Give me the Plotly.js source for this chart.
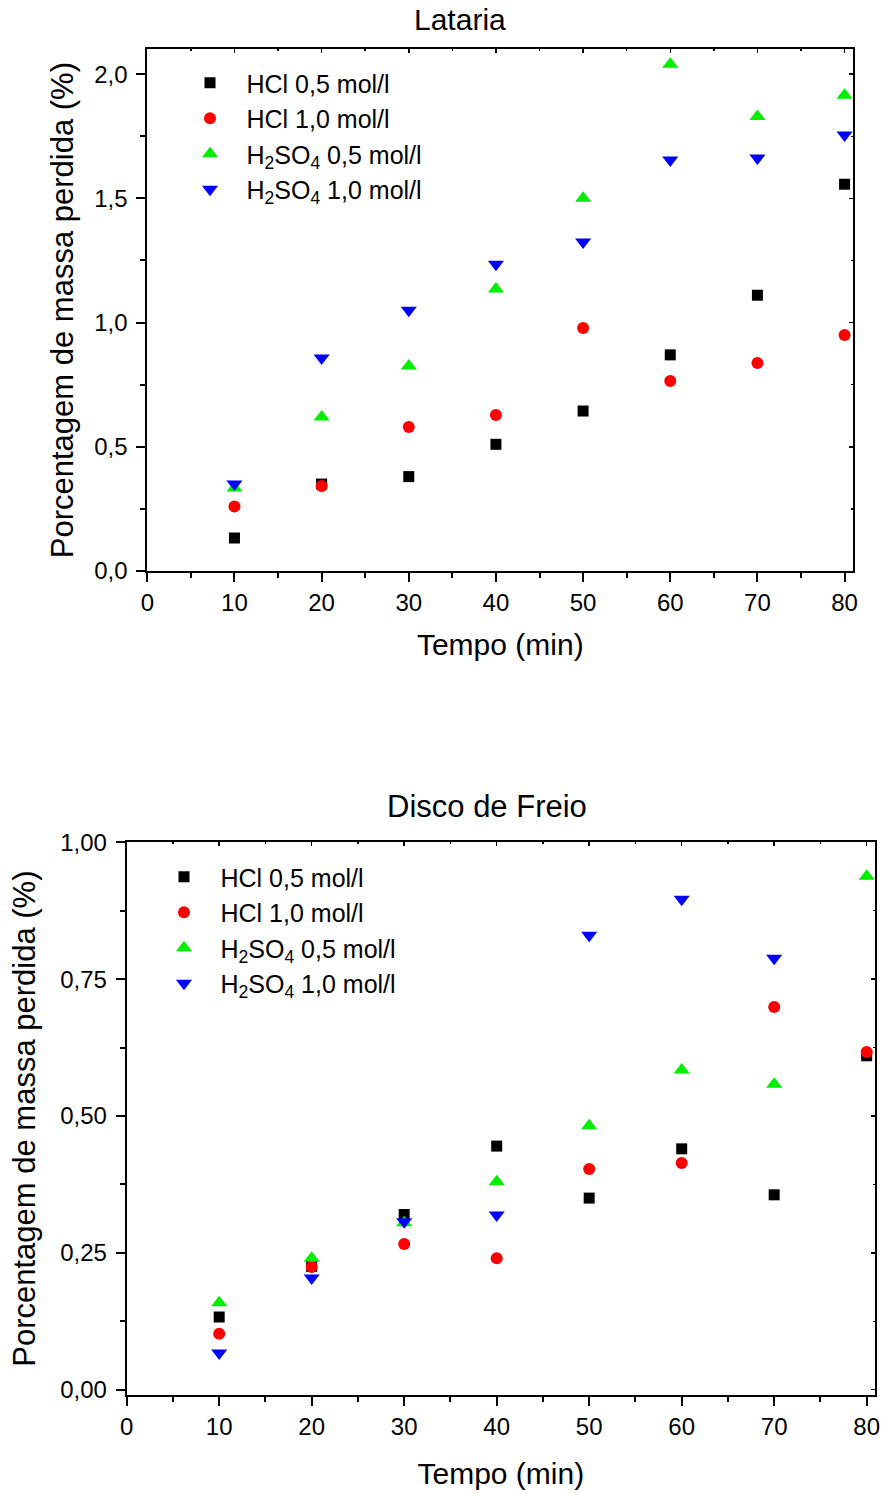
<!DOCTYPE html>
<html>
<head>
<meta charset="utf-8">
<script src="https://cdn.plot.ly/plotly-3.0.1.min.js"></script>
<style>html,body{margin:0;padding:0;background:#fff;}#chart{width:884px;height:1493px;}</style>
</head>
<body>
<div id="chart"></div>
<script>
// Shared
var tempo = [10, 20, 30, 40, 50, 60, 70, 80];
var seriesNames = ["HCl 0,5 mol/l", "HCl 1,0 mol/l", "H<sub>2</sub>SO<sub>4</sub> 0,5 mol/l", "H<sub>2</sub>SO<sub>4</sub> 1,0 mol/l"];

// Lataria
var latHCl05 = [0.133, 0.35, 0.38, 0.51, 0.644, 0.87, 1.11, 1.557];
var latHCl10 = [0.26, 0.342, 0.58, 0.628, 0.978, 0.765, 0.837, 0.95];
var latH2SO405 = [0.334, 0.62, 0.825, 1.135, 1.50, 2.04, 1.83, 1.915];
var latH2SO410 = [0.35, 0.857, 1.05, 1.235, 1.324, 1.654, 1.662, 1.755];

// Disco de Freio
var discoHCl05 = [0.133, 0.225, 0.32, 0.445, 0.35, 0.44, 0.356, 0.61];
var discoHCl10 = [0.102, 0.224, 0.266, 0.24, 0.403, 0.414, 0.699, 0.617];
var discoH2SO405 = [0.159, 0.24, 0.305, 0.38, 0.482, 0.584, 0.558, 0.938];
var discoH2SO410 = [0.067, 0.204, 0.307, 0.319, 0.83, 0.896, 0.788];

var FONT = "Liberation Sans, Arial, sans-serif";
var symbols = ["square", "circle", "triangle-up", "triangle-down"];
var colors = ["#000000", "#ff0000", "#00ee00", "#0000ff"];
var sizes = [11, 12, 14, 14];

function mk(y, i, xa, ya, leg) {
  return {
    x: tempo.slice(0, y.length), y: y, type: "scatter", mode: "markers",
    name: seriesNames[i], xaxis: xa, yaxis: ya, legend: leg,
    marker: {symbol: symbols[i], color: colors[i], size: sizes[i], line: {width: 0}}
  };
}

var data = [
  mk(latHCl05, 0, "x", "y", "legend"),
  mk(latHCl10, 1, "x", "y", "legend"),
  mk(latH2SO405, 2, "x", "y", "legend"),
  mk(latH2SO410, 3, "x", "y", "legend"),
  mk(discoHCl05, 0, "x2", "y2", "legend2"),
  mk(discoHCl10, 1, "x2", "y2", "legend2"),
  mk(discoH2SO405, 2, "x2", "y2", "legend2"),
  mk(discoH2SO410, 3, "x2", "y2", "legend2")
];

function mainAxis(o) {
  var base = {
    showline: true, linecolor: "#000", linewidth: 2, mirror: true,
    ticks: "outside", ticklen: 9, tickwidth: 2, tickcolor: "#000",
    showgrid: false, zeroline: false, fixedrange: true,
    tickfont: {family: FONT, size: 24, color: "#000"},
    ticklabelstandoff: 4
  };
  for (var k in o) base[k] = o[k];
  return base;
}
function mirrorAxis(o) {
  var base = {
    showline: false, ticks: "inside", ticklen: 4, tickwidth: 1.5, tickcolor: "#000",
    showgrid: false, zeroline: false, showticklabels: false, fixedrange: true
  };
  for (var k in o) base[k] = o[k];
  return base;
}

var topX = [147.3/884, 853.3/884], topY = [1-571/1493, 1-49.3/1493];
var botX = [126.7/884, 875/884], botY = [1-1395/1493, 1-842.3/1493];
var minorX = {dtick: 5, ticks: "outside", ticklen: 5, tickwidth: 2, tickcolor: "#000"};

var layout = {
  width: 884, height: 1493,
  margin: {l: 0, r: 0, t: 0, b: 0},
  paper_bgcolor: "#fff", plot_bgcolor: "#fff",
  separators: ",.",
  font: {family: FONT, color: "#000"},
  xaxis: mainAxis({domain: topX, anchor: "y", range: [0, 81], dtick: 10, tick0: 0, ticklabelstandoff: 0,
    minor: minorX,
    title: {text: "Tempo (min)", font: {family: FONT, size: 30}, standoff: 19}}),
  yaxis: mainAxis({domain: topY, anchor: "x", range: [0, 2.1], dtick: 0.5, tick0: 0, tickformat: ".1f",
    minor: {dtick: 0.25, ticks: "outside", ticklen: 5, tickwidth: 2, tickcolor: "#000"},
    title: {text: "Porcentagem de massa perdida (%)", font: {family: FONT, size: 31}, standoff: 11}}),
  xaxis2: mainAxis({domain: botX, anchor: "y2", range: [0, 80.9], dtick: 10, tick0: 0, ticklabelstandoff: 0,
    minor: minorX,
    title: {text: "Tempo (min)", font: {family: FONT, size: 30}, standoff: 24}}),
  yaxis2: mainAxis({domain: botY, anchor: "x2", range: [-0.0097, 1.0], dtick: 0.25, tick0: 0, tickformat: ".2f",
    minor: {dtick: 0.125, ticks: "outside", ticklen: 5, tickwidth: 2, tickcolor: "#000"},
    title: {text: "Porcentagem de massa perdida (%)", font: {family: FONT, size: 31}, standoff: 15}}),
  xaxis3: mirrorAxis({overlaying: "x", anchor: "y", side: "top", range: [0, 81], dtick: 10, tick0: 0,
    minor: {dtick: 5, ticks: "inside", ticklen: 2, tickwidth: 1.5, tickcolor: "#000"}}),
  yaxis3: mirrorAxis({overlaying: "y", anchor: "x", side: "right", range: [0, 2.1], dtick: 0.5, tick0: 0,
    minor: {dtick: 0.25, ticks: "inside", ticklen: 2, tickwidth: 1.5, tickcolor: "#000"}}),
  xaxis4: mirrorAxis({overlaying: "x2", anchor: "y2", side: "top", range: [0, 80.9], dtick: 10, tick0: 0,
    minor: {dtick: 5, ticks: "inside", ticklen: 2, tickwidth: 1.5, tickcolor: "#000"}}),
  yaxis4: mirrorAxis({overlaying: "y2", anchor: "x2", side: "right", range: [-0.0097, 1.0], dtick: 0.25, tick0: 0,
    minor: {dtick: 0.125, ticks: "inside", ticklen: 2, tickwidth: 1.5, tickcolor: "#000"}}),
  legend: {x: 173.5/884, y: 1-60/1493, xanchor: "left", yanchor: "top", bgcolor: "rgba(0,0,0,0)",
    font: {family: FONT, size: 25, color: "#000"}, itemwidth: 63, tracegroupgap: 0},
  legend2: {x: 147.5/884, y: 1-854/1493, xanchor: "left", yanchor: "top", bgcolor: "rgba(0,0,0,0)",
    font: {family: FONT, size: 25, color: "#000"}, itemwidth: 63, tracegroupgap: 0},
  annotations: [
    {text: "Lataria", xref: "paper", yref: "paper", x: 460/884, y: 1-20/1493, xanchor: "center", yanchor: "middle",
     showarrow: false, font: {family: FONT, size: 30, color: "#000"}},
    {text: "Disco de Freio", xref: "paper", yref: "paper", x: 487/884, y: 1-806/1493, xanchor: "center", yanchor: "middle",
     showarrow: false, font: {family: FONT, size: 31, color: "#000"}}
  ],
  showlegend: true
};

// Invisible traces so the inward mirror-tick axes are drawn
data.push({x: [0], y: [0], xaxis: "x3", yaxis: "y3", type: "scatter", mode: "markers", marker: {opacity: 0}, showlegend: false, hoverinfo: "skip"});
data.push({x: [0], y: [0], xaxis: "x4", yaxis: "y4", type: "scatter", mode: "markers", marker: {opacity: 0}, showlegend: false, hoverinfo: "skip"});

Plotly.newPlot("chart", data, layout, {displayModeBar: false, staticPlot: true});
</script>
</body>
</html>
